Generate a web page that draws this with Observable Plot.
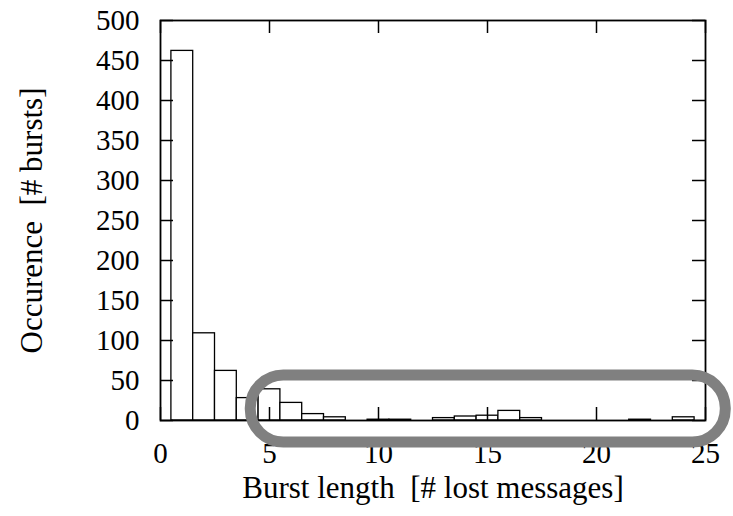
<!DOCTYPE html>
<html>
<head>
<meta charset="utf-8">
<script src="https://cdn.jsdelivr.net/npm/d3@7"></script>
<script src="https://cdn.jsdelivr.net/npm/@observablehq/plot@0.6"></script>
<style>
  html, body { margin: 0; padding: 0; background: #fff; }
</style>
</head>
<body>
<div id="chart"></div>
<script>
// Burst length (bin centre) and number of bursts
const burstLengths = [1, 2, 3, 4, 5, 6, 7, 8, 9, 10, 11, 12, 13, 14, 15, 16, 17, 18, 19, 20, 21, 22, 23, 24];
const occurrences  = [462, 109, 62, 28, 39, 22, 8, 4, 0, 1, 1, 0, 3, 5, 6, 12, 3, 0, 0, 0, 0, 1, 0, 4];

const xTicks = [0, 5, 10, 15, 20, 25];
const yTicks = [0, 50, 100, 150, 200, 250, 300, 350, 400, 450, 500];

const xLabel = "Burst length\u00a0 [# lost messages]";
const yLabel = "Occurence\u00a0 [# bursts]";

// highlighted region (in data units): burst lengths ≥ 5, small counts
const highlightX = [4.14, 25.93];
const highlightY = [-27.5, 56.25];

const bins = burstLengths.map((b, i) => ({x1: b - 0.5, x2: b + 0.5, y: occurrences[i]}));
const highlight = [{x1: highlightX[0], x2: highlightX[1], y1: highlightY[0], y2: highlightY[1]}];

const font = "'Liberation Serif', 'Times New Roman', Times, serif";
const W = 733, H = 516, ML = 160, MR = 28, MT = 20, MB = 96;
const innerW = W - ML - MR, innerH = H - MT - MB;
const tickLen = 13;

const chart = Plot.plot({
  width: W,
  height: H,
  marginLeft: ML,
  marginRight: MR,
  marginTop: MT,
  marginBottom: MB,
  style: {fontFamily: font, fontSize: "29px", color: "black", background: "white", overflow: "visible"},
  x: {domain: [0, 25], axis: null},
  y: {domain: [0, 500], axis: null},
  marks: [
    Plot.rect(bins, {x1: "x1", x2: "x2", y1: 0, y2: "y", fill: "white", stroke: "black", strokeWidth: 1.3}),
    // inward ticks on all four sides
    Plot.ruleX(xTicks, {x: d => d, insetTop: innerH - tickLen, stroke: "black", strokeWidth: 1.5}),
    Plot.ruleX(xTicks, {x: d => d, insetBottom: innerH - tickLen, stroke: "black", strokeWidth: 1.5}),
    Plot.ruleY(yTicks, {y: d => d, insetRight: innerW - tickLen, stroke: "black", strokeWidth: 1.5}),
    Plot.ruleY(yTicks, {y: d => d, insetLeft: innerW - tickLen, stroke: "black", strokeWidth: 1.5}),
    Plot.frame({stroke: "black", strokeWidth: 1.8}),
    // tick labels
    Plot.axisX(xTicks, {tickSize: 0, tickPadding: 22, fontSize: 29, label: null}),
    Plot.axisY(yTicks, {tickSize: 0, tickPadding: 21, fontSize: 29, label: null}),
    // axis titles
    Plot.text([xLabel], {frameAnchor: "bottom", dy: 77, fontSize: 31, textAnchor: "middle", text: d => d}),
    Plot.text([yLabel], {frameAnchor: "left", rotate: -90, dx: -128, fontSize: 31, textAnchor: "middle", text: d => d}),
    // highlight annotation
    Plot.rect(highlight, {x1: "x1", x2: "x2", y1: "y1", y2: "y2", fill: "none", stroke: "#808080", strokeWidth: 11, rx: 33, clip: false})
  ]
});
document.getElementById("chart").appendChild(chart);
</script>
</body>
</html>
